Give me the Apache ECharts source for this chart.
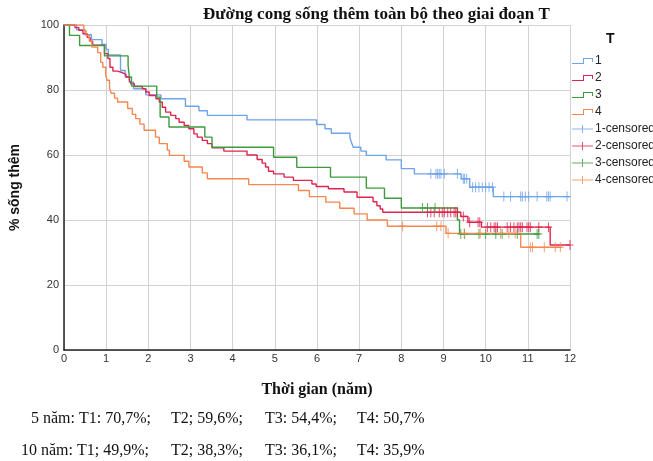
<!DOCTYPE html>
<html>
<head>
<meta charset="utf-8">
<script src="https://cdn.jsdelivr.net/npm/echarts@6/dist/echarts.min.js"></script>
<style>html,body{margin:0;padding:0;background:#fff}#c{width:653px;height:461px}</style>
</head>
<body>
<div id="c"></div>
<script>
// Kaplan-Meier steps: [time (years), survival % after the event]
const t1Curve = [[0,100],[0.3,98.5],[0.5,97],[0.65,95.5],[0.9,94],[1.0,92.5],[1.05,90.8],[1.34,86],[1.45,84],[1.55,82.4],[1.65,80.4],[1.94,78.5],[2.3,77.3],[2.88,75.0],[3.2,73.6],[3.4,72.2],[4.34,70.8],[5.99,69.4],[6.19,68.1],[6.34,66.7],[6.78,65.3],[6.82,63.8],[6.86,62.4],[7.04,61.2],[7.17,59.9],[7.64,58.5],[8.0,55.8],[8.31,54.2],[9.42,52.7],[9.62,50.1],[10.18,47.2],[12,47.2]];
const t2Curve = [[0,100],[0.26,99.2],[0.35,98.4],[0.45,97.3],[0.55,96.2],[0.62,95],[0.68,93.8],[0.96,91.2],[1.04,89.7],[1.09,87],[1.16,85.8],[1.27,85.3],[1.39,84.8],[1.47,84],[1.55,83],[1.59,81.9],[1.67,81.1],[1.86,80.4],[1.94,79.4],[2.02,78.3],[2.18,77.3],[2.26,76.3],[2.33,74.7],[2.41,73.2],[2.53,72.2],[2.65,71.2],[2.73,70.1],[2.85,69.1],[2.96,68.1],[3.08,66.5],[3.16,65.5],[3.28,64.5],[3.40,63.5],[3.51,62.2],[3.79,61.2],[4.34,60.0],[4.58,58.6],[4.7,57.5],[4.78,56.3],[4.85,55.0],[4.97,54.2],[5.22,53.2],[5.44,52.2],[5.88,51.1],[5.98,50.3],[6.27,49.6],[6.64,48.6],[6.95,47.0],[7.33,45.6],[7.42,44.4],[7.5,43.4],[7.56,42.4],[9.41,41.1],[9.58,39.3],[9.9,37.8],[11.53,32.3],[12,32.3]];
const t3Curve = [[0,100],[0.13,96.8],[0.37,93.7],[0.96,90.5],[1.52,87.5],[1.55,84],[1.6,81.2],[2.2,77.8],[2.28,71.7],[2.49,68.6],[3.34,65.5],[3.51,62.4],[4.97,59.3],[5.52,56.2],[6.32,53.2],[7.17,49.8],[7.6,46.7],[8.0,43.7],[9.33,40.0],[9.38,35.7],[11.28,35.7]];
const t4Curve = [[0,100],[0.47,98.3],[0.52,96.8],[0.6,95],[0.66,93.2],[0.8,91.5],[0.87,88.5],[0.92,87],[0.99,84.5],[1.02,83],[1.08,80.5],[1.12,79],[1.2,77.5],[1.27,76.3],[1.51,74.3],[1.62,72.5],[1.7,71.2],[1.8,69.5],[1.9,67.6],[2.17,65.5],[2.26,63.5],[2.45,61.5],[2.5,59.9],[2.85,58.1],[2.96,56.3],[3.28,54.5],[3.4,52.7],[4.38,50.9],[5.56,49.1],[5.82,47.2],[6.21,45.5],[6.54,43.6],[6.88,41.9],[7.19,40.0],[7.67,38.1],[9.06,35.9],[10.83,31.6],[11.8,31.6]];

// censored observation times (years)
const t1Censored = [8.70,8.82,8.86,8.90,8.94,9.02,9.33,9.47,9.5,9.55,9.69,9.76,9.84,9.92,10.0,10.08,10.16,10.43,10.59,10.83,10.87,10.94,11.02,11.22,11.45,11.49,11.53,11.93];
const t2Censored = [8.62,8.70,8.78,8.90,8.97,9.02,9.10,9.17,9.25,9.29,9.33,9.47,9.62,9.82,9.86,10.04,10.12,10.2,10.24,10.28,10.51,10.59,10.67,10.75,10.79,10.83,10.87,10.98,11.02,11.06,11.26,11.49,12.0];
const t3Censored = [8.5,8.62,8.8,9.41,9.5,9.84,10.0,10.24,10.39,10.75,11.22,11.26];
const t4Censored = [8.03,8.84,8.94,9.11,9.49,9.87,10.35,10.55,10.7,11.06,11.11,11.39,11.65,11.77];

const groupNames = ['1','2','3','4'];
const censoredNames = ['1-censored','2-censored','3-censored','4-censored'];
const colors = ['#6fa3ea','#e0244f','#3d9a3d','#f5874f'];

const titleText = 'Đường cong sống thêm toàn bộ theo giai đoạn T';
const xName = 'Thời gian (năm)';
const yName = '% sống thêm';
const legendTitle = 'T';
const line5 = ['5 năm: T1: 70,7%;','T2; 59,6%;','T3: 54,4%;','T4: 50,7%'];
const line10 = ['10 năm: T1; 49,9%;','T2; 38,3%;','T3: 36,1%;','T4: 35,9%'];

const curves = [t1Curve,t2Curve,t3Curve,t4Curve];
const censored = [t1Censored,t2Censored,t3Censored,t4Censored];

function valueAt(curve, t){
  let v = curve[0][1];
  for (const p of curve){ if (p[0] <= t) v = p[1]; else break; }
  return v;
}

const stepIcon = 'path://M0,5H11V0H21V4H20V1H12V6H0Z';
const censIcon = 'path://M0,3.5H10V0H11V3.5H21V4.5H11V8H10V4.5H0Z';
const plusSym = 'path://M3,0H4V4H7V5H4V9H3V5H0V4H3Z';

const series = [];
curves.forEach((c,i)=>{
  series.push({
    name: groupNames[i], type:'line', step:'end', data:c,
    showSymbol:false, symbol:'none', animation:false,
    lineStyle:{color:colors[i], width:1.4},
    itemStyle:{color:colors[i]}, z: 2+i
  });
});
censored.forEach((arr,i)=>{
  series.push({
    name: censoredNames[i], type:'scatter', animation:false,
    data: arr.map(t=>[t, valueAt(curves[i], t)]),
    symbol: plusSym, symbolSize:[7,10],
    itemStyle:{color:colors[i]}, z: 10+i
  });
});

const legendData = groupNames.map(n=>({name:n, icon:stepIcon}))
  .concat(censoredNames.map(n=>({name:n, icon:censIcon})));

const serif = '"Liberation Serif","Times New Roman",serif';
const sans = '"Liberation Sans",Arial,sans-serif';

const gfx = [];
const cols = [31,171,265,357];
const cols10 = [21,171,265,357];
line5.forEach((s,i)=>gfx.push({type:'text', left:cols[i], top:411, style:{text:s, font:'16px '+serif, fill:'#111'}}));
line10.forEach((s,i)=>gfx.push({type:'text', left:cols10[i], top:443, style:{text:s, font:'16px '+serif, fill:'#111'}}));
gfx.push({type:'text', left:606, top:32, style:{text:legendTitle, font:'bold 14px '+sans, fill:'#111'}});

const chart = echarts.init(document.getElementById('c'), null, {renderer:'canvas'});
chart.setOption({
  animation:false,
  backgroundColor:'#fff',
  title:{text:titleText, left:198, top:1, textStyle:{fontFamily:serif, fontSize:17, fontWeight:'bold', color:'#111'}},
  grid:{left:61, top:25, width:509, height:325, containLabel:false},
  xAxis:{type:'value', min:0, max:12, interval:1,
    name:xName, nameLocation:'middle', nameGap:32,
    nameTextStyle:{fontFamily:serif, fontSize:16, fontWeight:'bold', color:'#111'},
    axisLine:{show:true, onZero:false, lineStyle:{color:'#222', width:1.5}},
    axisTick:{show:false},
    axisLabel:{fontFamily:sans, fontSize:11, color:'#333', margin:3},
    splitLine:{show:true, lineStyle:{color:'#d2d2d2', width:1}}},
  yAxis:{type:'value', min:0, max:100, interval:20,
    name:yName, nameLocation:'middle', nameGap:42, nameRotate:90,
    nameTextStyle:{fontFamily:sans, fontSize:14, fontWeight:'bold', color:'#111'},
    axisLine:{show:true, lineStyle:{color:'#222', width:1.5}},
    axisTick:{show:false},
    axisLabel:{fontFamily:sans, fontSize:11, color:'#333', margin:5},
    splitLine:{show:true, lineStyle:{color:'#d2d2d2', width:1}}},
  legend:{orient:'vertical', left:572, top:55, itemWidth:21, itemHeight:10, itemGap:5,
    padding:0, data:legendData, selectedMode:false,
    itemStyle:{borderWidth:0},
    textStyle:{fontFamily:sans, fontSize:12, color:'#222', padding:[0,0,0,-3]}},
  graphic: gfx,
  series: series
});
</script>
</body>
</html>
